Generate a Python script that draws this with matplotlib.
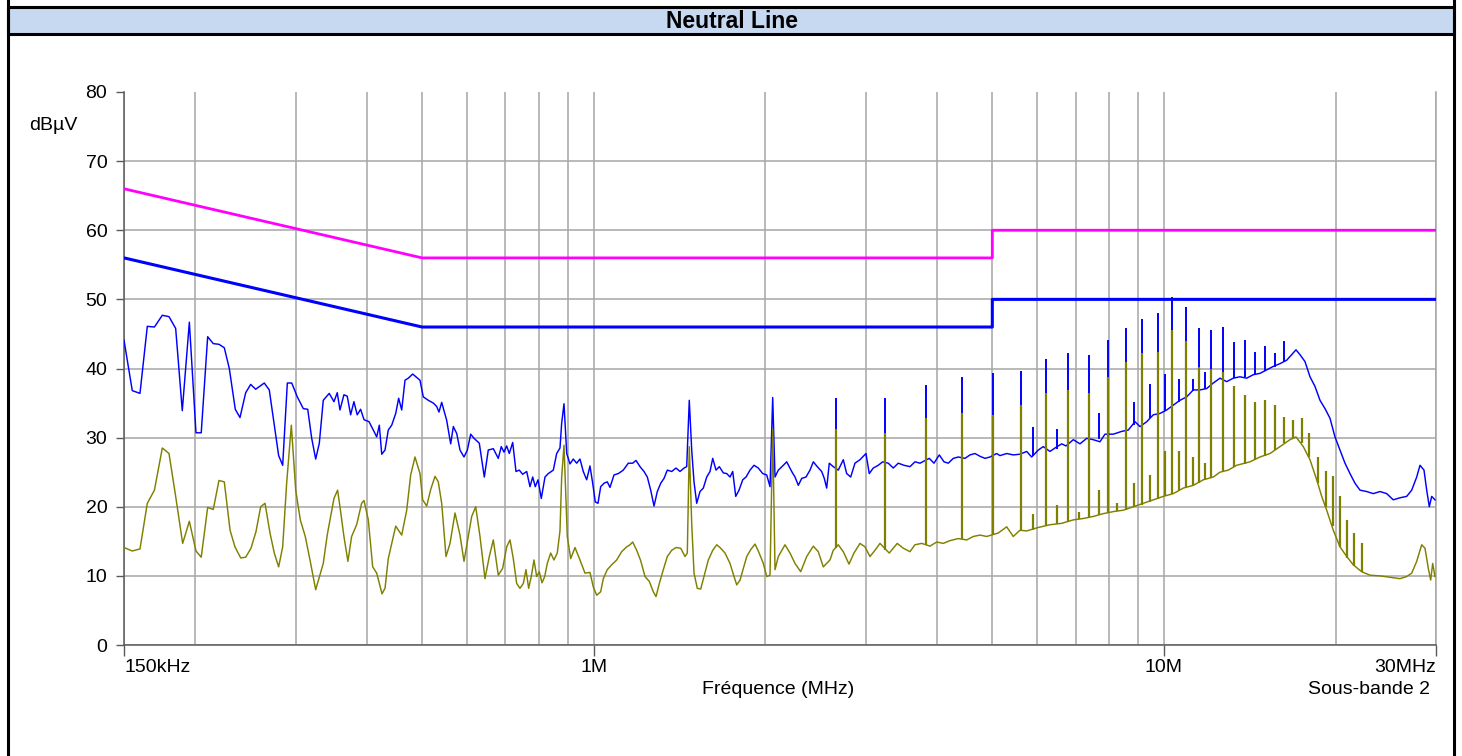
import matplotlib
matplotlib.use('Agg')
import matplotlib.pyplot as plt
from matplotlib.patches import Rectangle
from matplotlib.lines import Line2D

plt.rcParams['font.family'] = ['Liberation Sans', 'DejaVu Sans']

# ---------------- data ----------------
title = 'Neutral Line'
x_label = 'Fréquence (MHz)'
y_unit = 'dBµV'
band_label = 'Sous-bande 2'
x_tick_values = [0.15, 1, 10, 30]
x_tick_labels = ['150kHz', '1M', '10M', '30MHz']
y_tick_values = [0, 10, 20, 30, 40, 50, 60, 70, 80]

# limit lines (MHz, dBµV)
qp_limit_freq = [0.15, 0.5, 0.5, 5, 5, 30]
qp_limit_level = [66, 56, 56, 56, 60, 60]
avg_limit_freq = [0.15, 0.5, 0.5, 5, 5, 30]
avg_limit_level = [56, 46, 46, 46, 50, 50]

# peak trace (blue)
peak_freq = [
    0.150, 0.1551, 0.1600, 0.1648, 0.1696, 0.1751, 0.1799, 0.1848, 0.1898, 0.1953,
    0.2006, 0.2049, 0.2103, 0.2151, 0.2201, 0.2249, 0.2295, 0.2351, 0.2396, 0.2452,
    0.2502, 0.2553, 0.2643, 0.2697, 0.2749, 0.2801, 0.2847, 0.2901, 0.2953, 0.3020,
    0.3094, 0.3150, 0.3201, 0.3253, 0.3301, 0.3354, 0.3436, 0.3502, 0.3549, 0.3588,
    0.3646, 0.3695, 0.3746, 0.3796, 0.3847, 0.3900, 0.3954, 0.4035, 0.4105, 0.4162,
    0.4206, 0.4247, 0.4304, 0.4361, 0.4422, 0.4494, 0.4548, 0.4604, 0.4666, 0.4728,
    0.4813, 0.4891, 0.4957, 0.5023, 0.5126, 0.5231, 0.5303, 0.5352, 0.5411, 0.5521,
    0.5611, 0.5671, 0.5749, 0.5826, 0.5921, 0.6001, 0.6083, 0.6165, 0.6298, 0.6360,
    0.6427, 0.6531, 0.6665, 0.6800, 0.6883, 0.6959, 0.7035, 0.7109, 0.7208, 0.7304,
    0.7402, 0.7504, 0.7627, 0.7729, 0.7814, 0.7896, 0.7983, 0.8090, 0.8212, 0.8322,
    0.8492, 0.8609, 0.8724, 0.8784, 0.8867, 0.8965, 0.9085, 0.9206, 0.9333, 0.9458,
    0.9585, 0.9718, 0.9848, 0.9956, 1.0061, 1.0172, 1.0283, 1.0421, 1.0561, 1.0677,
    1.0851, 1.1041, 1.1266, 1.1496, 1.1702, 1.1859, 1.2053, 1.2249, 1.2414, 1.2585,
    1.2754, 1.2925, 1.3104, 1.3280, 1.3458, 1.3699, 1.3939, 1.4166, 1.4397, 1.4554,
    1.4706, 1.4851, 1.4990, 1.5154, 1.5358, 1.5564, 1.5779, 1.5991, 1.6166, 1.6383,
    1.6603, 1.6873, 1.7107, 1.7336, 1.7526, 1.7740, 1.7978, 1.8249, 1.8493, 1.8794,
    1.9100, 1.9435, 1.9784, 2.0105, 2.0375, 2.0597, 2.0790, 2.1069, 2.1499, 2.1796,
    2.2240, 2.2539, 2.2841, 2.3156, 2.3562, 2.3946, 2.4267, 2.4660, 2.5102, 2.5368,
    2.5614, 2.5884, 2.6306, 2.6843, 2.7390, 2.7769, 2.8222, 2.8713, 2.9299, 3.0019,
    3.0421, 3.0916, 3.1546, 3.2112, 3.2846, 3.3517, 3.4200, 3.4996, 3.5854, 3.6585,
    3.7331, 3.8762, 3.9505, 4.0363, 4.1136, 4.1857, 4.2711, 4.3582, 4.4778, 4.5691,
    4.6623, 4.7573, 4.8544, 4.9535, 5.0885, 5.1568, 5.2985, 5.4414, 5.5905, 5.7440,
    5.8612, 6.0194, 6.1422, 6.3112, 6.4400, 6.6167, 6.7327, 6.9340, 7.1244, 7.3197,
    7.5168, 7.7230, 7.8807, 8.1496, 8.4310, 8.6590, 8.8966, 9.0779, 9.3267, 9.5789,
    9.8409, 10.111, 10.384, 10.668, 10.961, 11.258, 11.566, 11.883, 12.204, 12.539,
    12.882, 13.230, 13.593, 13.966, 14.344, 14.737, 15.141, 15.550, 15.977, 16.415,
    16.750, 17.044, 17.322, 17.675, 18.036, 18.404, 18.779, 19.162, 19.553, 19.951,
    20.358, 20.774, 21.197, 21.630, 22.071, 22.676, 23.288, 23.927, 24.583, 25.248,
    25.941, 26.652, 27.196, 27.751, 28.123, 28.581, 28.894, 29.199, 29.483, 29.879,
]
peak_level = [
    44.1, 36.8, 36.4, 46.1, 46.0, 47.7, 47.5, 45.8, 33.9, 46.7,
    30.7, 30.7, 44.6, 43.6, 43.5, 43.0, 40.0, 34.1, 32.9, 36.5,
    37.7, 37.0, 37.9, 36.9, 32.1, 27.4, 26.0, 37.9, 37.9, 35.9,
    34.2, 34.1, 29.9, 26.9, 29.2, 35.4, 36.4, 35.2, 36.5, 34.0,
    36.2, 36.0, 33.3, 35.2, 33.3, 34.1, 32.6, 32.3, 31.1, 30.1,
    31.8, 27.6, 28.2, 31.1, 31.8, 33.5, 35.7, 34.0, 38.3, 38.6,
    39.2, 38.7, 38.3, 35.9, 35.4, 35.0, 34.5, 33.7, 35.1, 32.5,
    29.1, 31.6, 30.6, 28.2, 27.2, 28.2, 30.5, 29.9, 29.2, 26.8,
    24.3, 28.2, 28.4, 27.0, 28.7, 27.9, 28.8, 27.7, 29.3, 25.1,
    25.3, 24.7, 25.1, 22.9, 24.3, 22.9, 23.9, 21.2, 24.3, 24.8,
    25.3, 27.7, 28.5, 32.1, 34.9, 27.7, 26.2, 26.9, 26.3, 26.9,
    25.1, 23.9, 25.9, 23.4, 20.7, 20.5, 22.9, 23.4, 23.6, 22.8,
    24.6, 24.8, 25.3, 26.3, 26.3, 26.7, 25.8, 25.1, 24.3, 22.4,
    20.1, 22.2, 23.4, 24.1, 25.3, 25.1, 25.6, 25.1, 25.6, 25.8,
    35.4, 28.2, 23.6, 20.5, 22.2, 22.7, 24.3, 25.1, 27.0, 25.3,
    25.8, 24.9, 24.8, 24.3, 25.1, 21.5, 22.4, 23.9, 24.3, 25.3,
    26.0, 25.6, 24.8, 24.6, 22.9, 35.8, 24.3, 25.3, 26.0, 26.5,
    25.1, 24.3, 23.1, 24.1, 24.3, 25.3, 26.5, 25.8, 25.1, 24.1,
    22.7, 26.3, 25.8, 25.3, 26.8, 24.8, 24.3, 26.3, 26.8, 27.7,
    24.8, 25.6, 26.0, 26.5, 26.3, 25.6, 26.3, 26.0, 25.8, 26.5,
    26.3, 27.0, 26.3, 27.5, 26.5, 26.3, 27.0, 27.2, 27.0, 27.5,
    27.7, 27.3, 27.0, 27.2, 27.7, 27.4, 27.7, 27.5, 27.6, 28.0,
    27.2, 28.2, 28.7, 28.0, 28.5, 29.1, 28.8, 29.7, 29.1, 29.9,
    29.7, 29.4, 30.5, 30.5, 30.9, 31.1, 32.3, 31.6, 32.3, 33.3,
    33.5, 34.0, 34.7, 35.4, 35.9, 36.9, 36.9, 37.1, 37.9, 38.6,
    38.1, 38.6, 38.8, 38.6, 39.1, 39.3, 39.8, 40.3, 40.7, 41.2,
    42.0, 42.7, 42.0, 41.0, 38.8, 37.4, 35.4, 34.2, 32.8, 30.1,
    28.2, 26.3, 24.8, 23.4, 22.4, 22.2, 21.9, 22.2, 21.9, 21.0,
    21.3, 21.5, 22.4, 24.3, 26.0, 25.3, 22.4, 20.0, 21.5, 21.0,
]

# average trace (olive)
avg_freq = [
    0.150, 0.1551, 0.1600, 0.1648, 0.1696, 0.1751, 0.1799, 0.1848, 0.1901, 0.1953,
    0.2006, 0.2049, 0.2103, 0.2151, 0.2201, 0.2249, 0.2302, 0.2348, 0.2403, 0.2452,
    0.2505, 0.2556, 0.2605, 0.2651, 0.2705, 0.2752, 0.2801, 0.2847, 0.2893, 0.2948,
    0.3001, 0.3057, 0.3119, 0.3179, 0.3253, 0.3354, 0.3408, 0.3502, 0.3554, 0.3588,
    0.3646, 0.3705, 0.3761, 0.3838, 0.3916, 0.3954, 0.4023, 0.4095, 0.4162, 0.4252,
    0.4304, 0.4361, 0.4422, 0.4494, 0.4604, 0.4698, 0.4774, 0.4858, 0.4957, 0.5011,
    0.5093, 0.5176, 0.5267, 0.5337, 0.5411, 0.5506, 0.5596, 0.5710, 0.5826, 0.5921,
    0.6025, 0.6108, 0.6208, 0.6316, 0.6445, 0.6558, 0.6665, 0.6800, 0.6922, 0.7035,
    0.7130, 0.7225, 0.7325, 0.7423, 0.7523, 0.7605, 0.7688, 0.7769, 0.7855, 0.7941,
    0.8025, 0.8113, 0.8202, 0.8288, 0.8403, 0.8515, 0.8629, 0.8724, 0.8784, 0.8867,
    0.8986, 0.9110, 0.9270, 0.9458, 0.9651, 0.9848, 0.9980, 1.0118, 1.0283, 1.0391,
    1.0561, 1.0750, 1.0969, 1.1193, 1.1422, 1.1575, 1.1702, 1.1892, 1.2087, 1.2299,
    1.2514, 1.2718, 1.2857, 1.3030, 1.3243, 1.3458, 1.3699, 1.3939, 1.4206, 1.4455,
    1.4590, 1.4706, 1.4851, 1.4990, 1.5190, 1.5401, 1.5608, 1.5882, 1.6166, 1.6430,
    1.6697, 1.6990, 1.7336, 1.7619, 1.7812, 1.8053, 1.8294, 1.8546, 1.8848, 1.9178,
    1.9435, 1.9832, 2.0105, 2.0375, 2.0597, 2.0790, 2.1069, 2.1647, 2.2088, 2.2539,
    2.3063, 2.3629, 2.4267, 2.4760, 2.5265, 2.5958, 2.6306, 2.6843, 2.7390, 2.8029,
    2.8597, 2.9299, 2.9898, 3.0508, 3.1129, 3.1763, 3.2978, 3.3517, 3.4062, 3.4898,
    3.5854, 3.6585, 3.7588, 3.8871, 3.9941, 4.1020, 4.2145, 4.3582, 4.5086, 4.6304,
    4.7573, 4.8878, 5.1215, 5.2985, 5.4414, 5.5905, 5.7440, 6.0194, 6.3112, 6.6167,
    6.9340, 7.2200, 7.5168, 7.8267, 8.1496, 8.4862, 8.8355, 9.1980, 9.5789, 9.9729,
    10.384, 10.812, 11.258, 11.722, 12.204, 12.539, 12.965, 13.413, 14.154, 14.737,
    15.344, 15.977, 16.635, 17.044, 17.554, 18.036, 18.531, 18.908, 19.294, 19.815,
    20.358, 20.921, 21.481, 22.222, 22.979, 23.927, 24.913, 25.941, 26.652, 27.196,
    27.751, 28.316, 28.695, 29.080, 29.363, 29.601, 29.879,
]
avg_level = [
    14.1, 13.6, 13.9, 20.5, 22.4, 28.5, 27.7, 21.5, 14.7, 17.9,
    13.6, 12.7, 19.9, 19.6, 23.8, 23.6, 16.6, 14.2, 12.6, 12.7,
    14.0, 16.4, 20.0, 20.5, 16.2, 13.3, 11.3, 14.2, 23.4, 31.8,
    22.4, 18.1, 15.7, 12.3, 8.0, 11.8, 15.9, 21.2, 22.4, 20.0,
    15.7, 12.1, 15.7, 17.4, 20.5, 20.9, 18.1, 11.3, 10.4, 7.4,
    8.2, 12.5, 14.7, 17.2, 15.9, 19.5, 24.6, 27.2, 24.8, 21.0,
    20.1, 22.5, 24.4, 23.6, 20.5, 12.8, 14.7, 19.1, 15.9, 12.1,
    15.7, 18.6, 20.0, 15.7, 9.6, 12.8, 15.2, 10.1, 11.1, 14.2,
    15.2, 12.5, 8.9, 8.2, 8.9, 10.9, 8.2, 9.9, 12.3, 9.9,
    10.6, 9.0, 9.9, 11.8, 13.3, 12.3, 13.3, 16.5, 24.3, 28.9,
    15.7, 12.5, 14.1, 12.3, 10.4, 10.5, 8.4, 7.2, 7.7, 9.6,
    10.9, 11.6, 12.3, 13.5, 14.2, 14.5, 14.9, 13.7, 12.2, 9.9,
    9.2, 7.7, 7.0, 8.9, 10.9, 12.8, 13.7, 14.1, 14.0, 12.8,
    13.3, 28.7, 17.6, 10.4, 8.2, 8.1, 9.9, 12.3, 13.7, 14.5,
    14.0, 13.3, 11.8, 9.9, 8.7, 9.4, 11.1, 12.8, 13.8, 14.6,
    13.6, 11.8, 9.9, 10.1, 31.2, 10.9, 12.8, 14.5, 13.3, 11.8,
    10.6, 12.8, 14.3, 13.5, 11.3, 12.3, 13.7, 14.5, 13.5, 11.7,
    13.3, 14.7, 14.2, 12.8, 13.7, 14.7, 13.3, 14.0, 14.7, 14.0,
    13.5, 14.5, 14.7, 14.3, 14.9, 14.7, 15.1, 15.4, 15.2, 15.7,
    15.9, 15.7, 16.2, 17.1, 15.7, 16.6, 16.5, 17.0, 17.4, 17.6,
    18.1, 18.3, 18.6, 19.0, 19.3, 19.5, 20.0, 20.5, 21.0, 21.5,
    21.9, 22.7, 23.1, 23.9, 24.3, 25.0, 25.3, 26.0, 26.5, 27.2,
    27.7, 28.7, 29.7, 30.1, 28.7, 26.8, 23.9, 21.5, 19.5, 16.6,
    14.2, 12.8, 11.6, 10.6, 10.1, 10.0, 9.8, 9.6, 9.9, 10.4,
    12.1, 14.5, 14.0, 11.1, 9.4, 11.8, 9.9,
]

# narrow harmonic spikes
peak_spike_freq = [2.656, 3.245, 3.824, 4.419, 5.019, 5.608, 5.898, 6.204, 6.486, 6.788,
                   7.380, 7.681, 7.977, 8.262, 8.569, 8.848, 9.150, 9.440, 9.770, 10.04,
                   10.33, 10.63, 10.93, 11.23, 11.52, 11.80, 12.09, 12.68, 13.27, 13.87,
                   14.44, 15.04, 15.66, 16.24]
peak_spike_top = [35.7, 35.8, 37.6, 38.7, 39.3, 39.6, 31.6, 41.4, 31.3, 42.2,
                  42.0, 33.5, 44.1, 30.6, 45.8, 35.2, 47.2, 37.7, 48.1, 39.2,
                  50.3, 38.5, 48.9, 38.5, 45.8, 39.5, 45.5, 46.0, 43.9, 44.1,
                  42.4, 43.3, 42.2, 44.0]
peak_spike_base = [25.5, 26.3, 26.5, 27.1, 27.4, 27.6, 27.4, 28.5, 28.3, 29.2,
                   29.8, 29.8, 30.3, 30.6, 31.0, 31.8, 31.9, 32.8, 33.4, 33.8,
                   34.6, 35.2, 35.9, 36.8, 36.9, 37.0, 37.6, 38.4, 38.6, 38.7,
                   39.1, 39.6, 40.2, 40.9]

avg_spike_freq = [2.656, 3.245, 3.824, 4.419, 5.019, 5.608, 5.898, 6.204, 6.486, 6.788,
                  7.083, 7.380, 7.681, 7.977, 8.262, 8.569, 8.848, 9.150, 9.440, 9.770,
                  10.04, 10.33, 10.63, 10.93, 11.23, 11.52, 11.80, 12.09, 12.68, 13.27,
                  13.87, 14.44, 15.04, 15.66, 16.24, 16.82, 17.44, 17.98, 18.60, 19.24,
                  19.77, 20.36, 20.97, 21.54, 22.22]
avg_spike_top = [31.2, 30.6, 32.9, 33.5, 33.3, 34.7, 19.0, 36.4, 20.3, 36.9,
                 19.3, 36.4, 22.4, 38.7, 20.5, 41.0, 23.5, 42.2, 24.6, 42.4,
                 28.0, 45.6, 28.0, 44.0, 27.2, 40.2, 26.3, 40.0, 39.5, 37.4,
                 36.2, 35.2, 35.5, 34.7, 33.0, 32.6, 32.9, 30.6, 27.2, 25.1,
                 24.4, 21.5, 18.1, 16.2, 14.7]
avg_spike_base = [14.0, 13.8, 14.4, 15.3, 16.0, 16.6, 16.7, 17.2, 17.5, 17.8,
                  18.2, 18.5, 18.8, 19.1, 19.4, 19.6, 19.9, 20.3, 20.7, 21.1,
                  21.5, 21.8, 22.4, 22.8, 23.1, 23.5, 23.9, 24.2, 25.2, 25.7,
                  26.2, 26.7, 27.4, 28.2, 29.2, 29.9, 29.2, 27.2, 23.5, 20.0,
                  17.2, 14.2, 12.6, 11.4, 10.6]

# ---------------- figure ----------------
W, H = 1462, 756
fig = plt.figure(figsize=(W / 100, H / 100), dpi=100)

# table-like frame with title band
fig.add_artist(Rectangle((8 / W, 1 - 34 / H), (1454 - 8) / W, 27 / H,
                         transform=fig.transFigure, facecolor='#C6D9F1',
                         edgecolor='black', lw=2.2, zorder=0))
for xp in (8, 1454):
    fig.add_artist(Line2D([xp / W, xp / W], [0, 1], transform=fig.transFigure,
                          color='black', lw=2.2))
fig.text(732 / W, 1 - 21.5 / H, title, ha='center', va='center',
         fontsize=16.5, fontweight='bold')

ax = fig.add_axes([124 / W, 1 - 645 / H, 1312 / W, 553 / H])
ax.set_xscale('log')
ax.set_xlim(0.15, 30)
ax.set_ylim(0, 80)

grid_color = '#a6a6a6'
axis_color = '#5a5a5a'
fs = 14
ax.set_xticks(x_tick_values)
ax.set_xticklabels(x_tick_labels)
ax.set_xticks([0.2, 0.3, 0.4, 0.5, 0.6, 0.7, 0.8, 0.9, 2, 3, 4, 5, 6, 7, 8, 9, 20],
              minor=True)
ax.xaxis.set_minor_formatter(plt.NullFormatter())
ax.set_yticks(y_tick_values)
ax.tick_params(axis='x', which='major', direction='out', length=8, width=1,
               color=axis_color, labelsize=fs, pad=2)
ax.tick_params(axis='x', which='minor', length=0)
ax.tick_params(axis='y', direction='out', length=6, width=1, color=axis_color,
               labelsize=fs, pad=6)
labels = ax.get_xticklabels()
labels[0].set_ha('left')
labels[-1].set_ha('right')

ax.grid(True, which='both', axis='x', color=grid_color, lw=1.1)
ax.grid(True, which='major', axis='y', color=grid_color, lw=1.1)
ax.yaxis.get_gridlines()[-1].set_visible(False)
ax.set_axisbelow(True)

ax.spines['top'].set_visible(False)
ax.spines['left'].set_color(axis_color)
ax.spines['bottom'].set_color(axis_color)
ax.spines['right'].set_color(grid_color)
for s in ('left', 'bottom', 'right'):
    ax.spines[s].set_linewidth(1.1)

# limits
ax.plot(qp_limit_freq, qp_limit_level, color='#ff00ff', lw=2.0, zorder=3)
ax.plot(avg_limit_freq, avg_limit_level, color='#0000ff', lw=2.2, zorder=3)

# traces
ax.plot(peak_freq, peak_level, color='#0000ff', lw=1.05, zorder=4)
ax.vlines(peak_spike_freq, peak_spike_base, peak_spike_top, color='#0000ff',
          lw=1.4, zorder=4)
ax.plot(avg_freq, avg_level, color='#808000', lw=1.05, zorder=5)
ax.vlines(avg_spike_freq, avg_spike_base, avg_spike_top, color='#808000',
          lw=1.6, zorder=5)

# texts
fig.text(29 / W, 1 - 125 / H, y_unit, ha='left', va='center', fontsize=fs)
fig.text(778 / W, 1 - 689 / H, x_label, ha='center', va='center', fontsize=fs)
fig.text(1430 / W, 1 - 689 / H, band_label, ha='right', va='center', fontsize=fs)

fig.savefig('out.png', dpi=100)
